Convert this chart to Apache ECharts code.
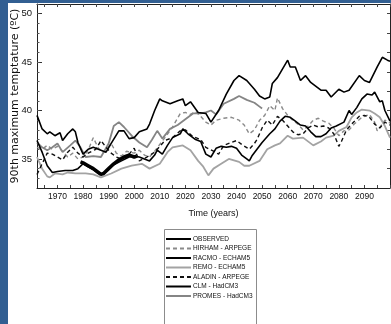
<!DOCTYPE html>
<html>
<head>
<meta charset="utf-8">
<script src="https://cdn.jsdelivr.net/npm/echarts@6/dist/echarts.min.js"></script>
<style>
  html, body { margin: 0; padding: 0; width: 391px; height: 324px; overflow: hidden; background: #325f92; }
  #chart { position: absolute; left: 8px; top: 3px; width: 383px; height: 321px; background: #ffffff; }
</style>
</head>
<body>
<div id="chart"></div>
<script>
// ---- data (year, 90th percentile max temperature in °C) ----
const xLabelYears = [1970, 1980, 1990, 2000, 2010, 2020, 2030, 2040, 2050, 2060, 2070, 2080, 2090];
const yLabelValues = [35, 40, 45, 50];
const seriesNames = ['OBSERVED', 'HIRHAM - ARPEGE', 'RACMO - ECHAM5', 'REMO - ECHAM5', 'ALADIN - ARPEGE', 'CLM - HadCM3', 'PROMES - HadCM3'];

const observed = [[1979,34.7],[1980,34.6],[1982,34.3],[1984,34.0],[1986,33.6],[1987,33.4],[1988,33.5],[1990,34.0],[1992,34.5],[1994,34.9],[1996,35.2],[1998,35.4],[2000,35.2],[2001,35.3]];

const hirham = [[1962,36.2],[1964,36.0],[1966,36.4],[1968,36.0],[1970,36.3],[1972,35.8],[1974,35.2],[1976,35.6],[1978,35.0],[1980,35.2],[1982,35.9],[1984,37.2],[1986,36.1],[1988,35.7],[1991,36.6],[1993,35.6],[1995,35.3],[1997,35.8],[2000,35.6],[2002,35.9],[2004,35.4],[2006,35.2],[2008,35.8],[2010,36.5],[2012,37.2],[2015,38.3],[2018,39.7],[2020,39.8],[2022,39.6],[2024,39.9],[2026,39.4],[2028,38.8],[2030,38.5],[2032,39.0],[2035,39.2],[2038,39.3],[2041,39.0],[2043,38.5],[2045,37.6],[2047,38.0],[2049,39.0],[2051,39.5],[2053,40.5],[2055,40.0],[2056,41.3],[2058,40.2],[2060,39.5],[2062,39.0],[2064,38.6],[2066,38.0],[2068,38.4],[2070,39.0],[2072,39.2],[2074,38.9],[2076,38.7],[2078,38.2],[2080,37.4],[2082,37.9],[2084,38.0],[2086,38.6],[2089,39.3],[2092,39.6],[2094,38.8],[2095,37.9],[2097,38.6],[2098,39.0],[2100,38.7]];

const racmo = [[1962,36.9],[1964,35.7],[1966,34.3],[1968,33.6],[1970,33.7],[1973,33.8],[1976,33.8],[1978,34.0],[1980,34.5],[1982,34.2],[1984,33.9],[1986,33.5],[1988,33.4],[1990,34.0],[1992,34.4],[1995,34.8],[1998,35.2],[2000,35.3],[2002,35.2],[2004,35.0],[2006,34.8],[2008,35.4],[2009,35.9],[2011,35.5],[2013,36.4],[2015,37.2],[2018,37.6],[2019,38.1],[2021,37.6],[2024,37.0],[2026,36.8],[2028,35.5],[2030,35.2],[2032,36.1],[2034,36.3],[2036,36.2],[2038,36.3],[2040,36.1],[2042,35.4],[2044,35.0],[2045,34.8],[2046,35.3],[2048,36.0],[2050,36.7],[2053,37.6],[2055,38.1],[2057,38.9],[2059,39.4],[2061,39.3],[2063,38.9],[2065,38.5],[2067,38.4],[2069,37.8],[2071,37.3],[2073,37.3],[2075,37.6],[2077,38.2],[2079,38.4],[2082,38.8],[2084,40.0],[2085,39.6],[2087,40.3],[2089,41.2],[2091,41.7],[2093,41.6],[2094,41.9],[2096,40.9],[2097,41.0],[2098,40.0],[2100,38.9]];

const remo = [[1962,35.2],[1964,34.0],[1966,33.2],[1967,33.1],[1969,33.5],[1972,33.4],[1974,33.6],[1977,33.5],[1981,33.5],[1984,33.4],[1987,33.1],[1991,33.5],[1995,34.0],[1999,34.3],[2003,34.5],[2006,34.0],[2010,34.5],[2013,35.7],[2015,36.2],[2019,36.4],[2022,35.9],[2025,34.8],[2027,34.2],[2029,33.3],[2031,34.0],[2034,34.5],[2037,35.0],[2041,34.7],[2043,34.3],[2045,34.3],[2049,34.8],[2052,36.0],[2055,36.4],[2057,36.6],[2060,37.4],[2062,37.1],[2066,37.2],[2070,36.4],[2073,36.8],[2075,37.2],[2078,37.4],[2080,37.9],[2083,38.3],[2085,39.3],[2087,39.8],[2089,40.1],[2092,40.0],[2094,39.7],[2096,39.3],[2098,38.4],[2100,37.2]];

const aladin = [[1962,33.4],[1964,34.5],[1966,35.6],[1968,35.5],[1970,35.2],[1972,34.9],[1974,35.7],[1976,36.2],[1978,35.6],[1980,35.2],[1982,35.6],[1985,36.0],[1987,36.9],[1989,36.2],[1991,35.6],[1993,35.2],[1995,35.0],[1998,35.5],[2000,36.1],[2002,34.8],[2005,35.2],[2008,35.7],[2012,36.9],[2015,37.2],[2018,37.9],[2020,38.0],[2023,37.3],[2026,37.0],[2028,36.2],[2031,35.8],[2033,35.5],[2035,36.4],[2038,36.7],[2040,36.9],[2042,36.5],[2045,36.0],[2047,36.6],[2048,37.0],[2050,38.2],[2052,39.0],[2054,38.5],[2056,39.4],[2058,39.0],[2060,38.4],[2062,37.8],[2064,37.5],[2066,37.6],[2068,38.2],[2070,38.5],[2072,38.3],[2074,38.4],[2076,38.2],[2078,37.6],[2080,36.3],[2081,36.8],[2083,38.0],[2085,38.6],[2088,39.4],[2090,39.5],[2092,39.3],[2094,38.6],[2096,38.2],[2098,38.8],[2100,38.5]];

const clm = [[1962,39.5],[1964,38.1],[1966,37.6],[1967,37.8],[1969,37.4],[1971,37.7],[1972,36.9],[1974,37.6],[1976,38.1],[1977,37.8],[1978,36.7],[1980,35.5],[1982,36.0],[1984,36.2],[1987,35.9],[1989,35.7],[1991,36.6],[1994,37.9],[1996,37.9],[1998,37.1],[2000,37.2],[2002,37.8],[2005,38.1],[2006,38.6],[2008,40.0],[2010,41.2],[2011,41.0],[2014,40.7],[2017,41.0],[2019,41.2],[2020,40.5],[2022,40.9],[2025,39.8],[2028,39.7],[2030,38.8],[2033,40.0],[2036,41.7],[2039,43.1],[2041,43.6],[2044,43.1],[2047,42.2],[2049,41.5],[2051,41.2],[2053,41.4],[2054,42.8],[2056,43.4],[2060,45.2],[2061,44.5],[2063,44.5],[2065,43.1],[2067,43.6],[2069,42.9],[2073,42.1],[2075,42.1],[2077,41.4],[2080,42.2],[2082,41.9],[2084,42.1],[2088,43.6],[2090,43.1],[2092,42.9],[2095,44.5],[2097,45.5],[2099,45.2],[2100,45.1]];

const promes = [[1962,36.7],[1964,36.2],[1966,35.9],[1968,36.2],[1970,36.6],[1972,35.7],[1975,36.4],[1977,36.9],[1979,36.2],[1981,35.2],[1984,35.3],[1987,35.2],[1990,36.6],[1992,38.4],[1994,38.8],[1996,38.3],[1999,37.4],[2002,36.7],[2005,36.2],[2007,37.0],[2009,37.9],[2011,37.1],[2014,38.1],[2017,38.5],[2020,39.1],[2023,39.7],[2026,39.7],[2028,39.8],[2030,40.0],[2032,39.6],[2035,40.7],[2039,41.2],[2041,41.5],[2044,41.1],[2047,40.8],[2049,40.4],[2050,40.2]];

// ---- chart ----
const sans = "'Liberation Sans', Arial, sans-serif";
const xMin = 1962, xMax = 2100, yMin = 32, yMax = 51;
const range = (a, b, s) => { const r = []; for (let v = a; v <= b; v += s) r.push(v); return r; };

const chart = echarts.init(document.getElementById('chart'), null, { renderer: 'canvas' });

function lineSeries(name, data, color, width, type, z) {
  return {
    name, type: 'line', data, xAxisIndex: 0, yAxisIndex: 0,
    symbol: 'none', showSymbol: false, smooth: false, animation: false, z: z,
    lineStyle: { color, width, type },
    itemStyle: { color }
  };
}

chart.setOption({
  animation: false,
  backgroundColor: '#ffffff',
  grid: { left: 29, right: 1, top: 1, bottom: 136, containLabel: false, outerBoundsMode: 'none' },
  graphic: [{
    type: 'rect', left: 156, top: 226, z: 0, silent: true,
    shape: { width: 92, height: 120 },
    style: { fill: 'transparent', stroke: '#8c8c8c', lineWidth: 1 }
  }],
  legend: {
    orient: 'vertical', left: 157, top: 232,
    data: seriesNames,
    itemWidth: 25, itemHeight: 8, itemGap: 1.5,
    padding: 0,
    itemStyle: { color: 'transparent', borderWidth: 0, opacity: 0 },
    textStyle: { fontFamily: sans, fontSize: 6.5, color: '#111', lineHeight: 8, padding: [0, 0, 0, -3] },
    selectedMode: false
  },
  xAxis: [
    {
      type: 'value', min: xMin, max: xMax, position: 'bottom',
      name: 'Time (years)', nameLocation: 'middle', nameGap: 21, nameMoveOverlap: false,
      nameTextStyle: { fontFamily: sans, fontSize: 9, color: '#111' },
      axisLine: { show: true, lineStyle: { color: '#222', width: 1 } },
      axisTick: { show: true, inside: true, length: 3, customValues: range(1965, 2100, 5), lineStyle: { color: '#444' } },
      axisLabel: { show: true, customValues: xLabelYears, formatter: v => String(v), fontFamily: sans, fontSize: 8.5, color: '#111', margin: 4 },
      splitLine: { show: false }
    },
    {
      type: 'value', min: xMin, max: xMax, position: 'top',
      axisLine: { show: true, lineStyle: { color: '#222', width: 1 } },
      axisTick: { show: true, inside: true, length: 3, customValues: range(1965, 2100, 5), lineStyle: { color: '#444' } },
      axisLabel: { show: false },
      splitLine: { show: false }
    }
  ],
  yAxis: [
    {
      type: 'value', min: yMin, max: yMax, position: 'left',
      name: '90th maximum temptature (ºC)', nameLocation: 'middle', nameGap: 16, nameRotate: 90, nameMoveOverlap: false,
      nameTextStyle: { fontFamily: "'DejaVu Sans', sans-serif", fontSize: 11, color: '#111' },
      axisLine: { show: true, lineStyle: { color: '#222', width: 1 } },
      axisTick: { show: true, inside: true, length: 5, customValues: yLabelValues, lineStyle: { color: '#333' } },
      axisLabel: { show: true, customValues: yLabelValues, formatter: v => String(v), fontFamily: sans, fontSize: 9.5, color: '#111', margin: 5 },
      splitLine: { show: false }
    },
    {
      type: 'value', min: yMin, max: yMax, position: 'left',
      axisLine: { show: false },
      axisTick: { show: true, inside: true, length: 2.5, customValues: range(33, 51, 1), lineStyle: { color: '#555' } },
      axisLabel: { show: false },
      splitLine: { show: false }
    },
    {
      type: 'value', min: yMin, max: yMax, position: 'right',
      axisLine: { show: true, lineStyle: { color: '#222', width: 1 } },
      axisTick: { show: true, inside: true, length: 3, customValues: range(34, 50, 2), lineStyle: { color: '#444' } },
      axisLabel: { show: false },
      splitLine: { show: false }
    }
  ],
  series: [
    lineSeries('OBSERVED', observed, '#000000', 3.5, 'solid', 9),
    lineSeries('HIRHAM - ARPEGE', hirham, '#8a8a8a', 1.4, [4, 3], 3),
    lineSeries('RACMO - ECHAM5', racmo, '#000000', 1.6, 'solid', 6),
    lineSeries('REMO - ECHAM5', remo, '#a3a3a3', 1.8, 'solid', 2),
    lineSeries('ALADIN - ARPEGE', aladin, '#111111', 1.4, [4, 3], 5),
    lineSeries('CLM - HadCM3', clm, '#000000', 1.6, 'solid', 7),
    lineSeries('PROMES - HadCM3', promes, '#858585', 1.8, 'solid', 4)
  ]
});
</script>
</body>
</html>
